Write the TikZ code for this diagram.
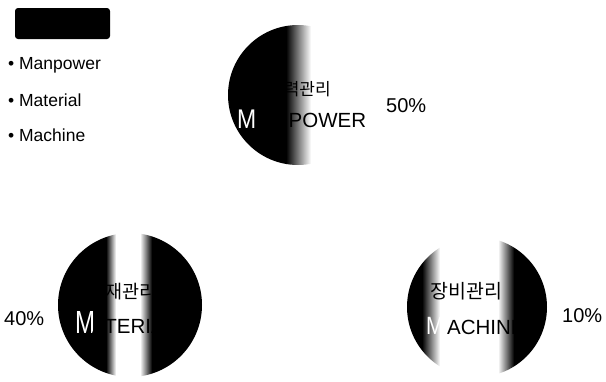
\documentclass[tikz,border=0pt]{standalone}
\usepackage{graphicx}
\usepackage{fontspec}
\setmainfont{Liberation Sans}
\newfontfamily\kor{Noto Sans CJK KR}
\tikzset{
  legtxt/.style={anchor=base west, inner sep=0pt, font=\fontsize{17.5}{19}\selectfont},
  pct/.style={anchor=base west, inner sep=0pt, font=\fontsize{20}{22}\selectfont},
  bigm/.style={anchor=base west, inner sep=0pt, text=white},
  eng/.style={anchor=base west, inner sep=0pt, font=\fontsize{20.5}{22}\selectfont},
  kr/.style={anchor=base west, inner sep=0pt, font=\kor\fontsize{18.5}{20}\selectfont},
}
\newcommand{\thinM}[2]{{\fontsize{#1}{#1}\selectfont\scalebox{#2}[1]{M}}}
\begin{document}
\begin{tikzpicture}[x=1pt,y=-1pt]
\useasboundingbox (0,0) rectangle (606,381);
% legend
\fill[black, rounded corners=3pt] (15,8) rectangle (110,39);
\node[legtxt] (l1) at (8,69) {\textbullet\ Manpower};
\node[legtxt] (l2) at (8,106) {\textbullet\ Material};
\node[legtxt] (l3) at (8,141) {\textbullet\ Machine};
% top circle
\begin{scope}
\clip (298,95) circle[radius=70];
\fill[black] (226,23) rectangle (286,167);
\shade[left color=black, right color=white] (286,23) rectangle (311,167);
\end{scope}
\node[kr, font=\kor\fontsize{17}{19}\selectfont] (t1) at (268,95) {인력관리};
\node[bigm] (t2) at (237,128) {\thinM{27}{0.85}};
\node[eng] (t3) at (260,127) {ANPOWER};
\node[pct] (p1) at (386,112) {50\%};
% bottom-left circle
\begin{scope}
\clip (130,305) circle[radius=72];
\fill[black] (56,231) rectangle (106,379);
\shade[left color=black, right color=white] (106,231) rectangle (116,379);
\shade[left color=white, right color=black] (140,231) rectangle (152,379);
\fill[black] (152,231) rectangle (204,379);
\end{scope}
\node[kr] (b1) at (88,298) {자재관리};
\node[bigm] (b2) at (75,333) {\thinM{32}{0.75}};
\node[eng] (b3) at (92,333) {ATERIAL};
\node[pct] (p2) at (4,325) {40\%};
% bottom-right circle
\begin{scope}
\clip (477,307) circle[radius=70];
\fill[black] (405,235) rectangle (422,379);
\shade[left color=black, right color=white] (422,235) rectangle (440,379);
\shade[left color=white, right color=black] (498,235) rectangle (514,379);
\fill[black] (514,235) rectangle (549,379);
\end{scope}
\node[kr, font=\kor\fontsize{19.5}{21}\selectfont] (r1) at (430,298) {장비관리};
\node[bigm] (r2) at (426,334) {\thinM{25}{0.85}};
\node[eng] (r3) at (447,334) {ACHINE};
\node[pct] (p3) at (562,322) {10\%};
\end{tikzpicture}
\end{document}
